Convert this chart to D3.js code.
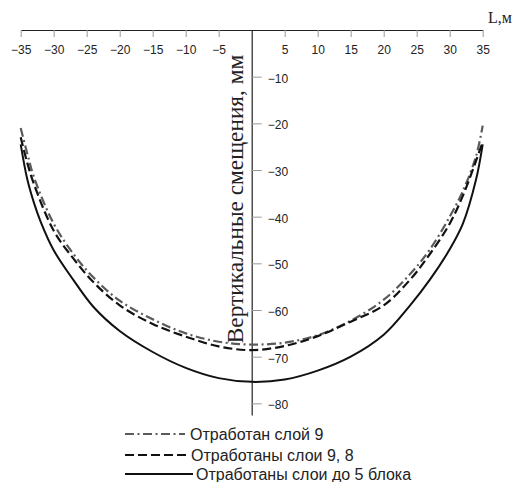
<!doctype html>
<html lang="ru">
<head>
<meta charset="utf-8">
<title>Вертикальные смещения</title>
<style>
  body { margin: 0; background: #fff; }
  svg text { fill: #222; }
  .tick text { font-family: "Liberation Sans", Arial, sans-serif; font-size: 12px; }
</style>
</head>
<body>
<div id="chart"></div>
<script src="https://cdn.jsdelivr.net/npm/d3@7"></script>
<script>
// distance along L, m
var xsA = [-35, -34, -33, -30, -27, -24, -20, -15, -10, -5, 0, 5, 10, 15, 20, 24, 27, 30, 32, 34, 35];
// Отработан слой 9
var layer9 = [-21, -26.5, -31.5, -41.5, -48, -53, -58, -62, -65, -66.8, -67.4, -67, -65.4, -62.3, -57.8, -52.3, -47, -40, -34.5, -27, -20.5];
// Отработаны слои 9, 8
var layer98 = [-23, -28.5, -33, -43, -49, -54, -59, -63, -65.7, -67.8, -68.6, -67.7, -65.6, -62.5, -59, -53.5, -48, -41.5, -35.5, -28, -24];
var xsB = [-35, -34, -33, -32, -30, -27, -24, -20, -15, -10, -5, 0, 5, 10, 15, 20, 24, 27, 30, 32, 34, 35];
// Отработаны слои до 5 блока
var block5 = [-24.5, -32, -37, -41, -47.2, -53.6, -59.3, -64.5, -69, -72.4, -74.6, -75.4, -74.9, -73, -70, -65.3, -59, -53.5, -47, -41.5, -32, -24.5];

var xTicks = [-35, -30, -25, -20, -15, -10, -5, 5, 10, 15, 20, 25, 30, 35];
var yTicks = [-10, -20, -30, -40, -50, -60, -70, -80];
var legendLabels = ["Отработан слой 9", "Отработаны слои 9, 8", "Отработаны слои до 5 блока"];

var svg = d3.select("#chart").append("svg")
    .attr("width", 515)
    .attr("height", 482);

var x = d3.scaleLinear().domain([-35, 35]).range([20.7, 482.7]);
var y = d3.scaleLinear().domain([0, -82.5]).range([30, 415]);

// x axis on top
var xAxis = svg.append("g")
    .attr("transform", "translate(0," + y(0) + ")")
    .call(d3.axisBottom(x).tickValues(xTicks).tickSize(7).tickSizeOuter(0).tickPadding(8));
xAxis.select(".domain").attr("stroke", "#222").attr("stroke-width", 1.2);
xAxis.selectAll(".tick line").attr("stroke", "#999");
xAxis.selectAll(".tick text").attr("fill", "#222");

svg.append("text")
    .attr("x", 488)
    .attr("y", 23)
    .attr("font-family", "'Liberation Serif', 'Times New Roman', serif")
    .attr("font-size", 16)
    .text("L,м");

// y axis through zero
var yAxis = svg.append("g")
    .attr("transform", "translate(" + x(0) + ",0)")
    .call(d3.axisRight(y).tickValues(yTicks).tickSize(10).tickSizeOuter(0).tickPadding(6).tickFormat(d3.format("d")));
yAxis.select(".domain").attr("stroke", "#222").attr("stroke-width", 1.2);
yAxis.selectAll(".tick line").attr("stroke", "#999");
yAxis.selectAll(".tick text").attr("fill", "#222").attr("dy", "0.45em");

svg.append("text")
    .attr("transform", "translate(243,199) rotate(-90)")
    .attr("text-anchor", "middle")
    .attr("font-family", "'Liberation Serif', 'Times New Roman', serif")
    .attr("font-size", 23.3)
    .text("Вертикальные смещения, мм");

// curves
var line = d3.line()
    .x(function(d) { return x(d[0]); })
    .y(function(d) { return y(d[1]); })
    .curve(d3.curveCatmullRom.alpha(0.5));

var series = [
  {pts: d3.zip(xsA, layer9), color: "#5a5a5a", dash: "9,3.5,2,3.5", width: 2.2},
  {pts: d3.zip(xsA, layer98), color: "#111", dash: "9,4", width: 2.2},
  {pts: d3.zip(xsB, block5), color: "#111", dash: null, width: 2}
];

svg.selectAll("path.curve")
  .data(series)
  .join("path")
    .attr("class", "curve")
    .attr("d", function(d) { return line(d.pts); })
    .attr("fill", "none")
    .attr("stroke", function(d) { return d.color; })
    .attr("stroke-width", function(d) { return d.width; })
    .attr("stroke-dasharray", function(d) { return d.dash; });

// legend
var legend = svg.append("g");
var legY = [434, 455, 474];
var legX2 = [185, 186, 193];
var textX = [190, 191, 196];

legend.selectAll("line")
  .data(series)
  .join("line")
    .attr("x1", 125)
    .attr("x2", function(d, i) { return legX2[i]; })
    .attr("y1", function(d, i) { return legY[i]; })
    .attr("y2", function(d, i) { return legY[i]; })
    .attr("stroke", function(d) { return d.color; })
    .attr("stroke-width", function(d) { return d.width; })
    .attr("stroke-dasharray", function(d) { return d.dash; });

legend.selectAll("text")
  .data(legendLabels)
  .join("text")
    .attr("x", function(d, i) { return textX[i]; })
    .attr("y", function(d, i) { return legY[i] + 6; })
    .attr("font-family", "'Liberation Sans', Arial, sans-serif")
    .attr("font-size", 16)
    .text(function(d) { return d; });
</script>
</body>
</html>
